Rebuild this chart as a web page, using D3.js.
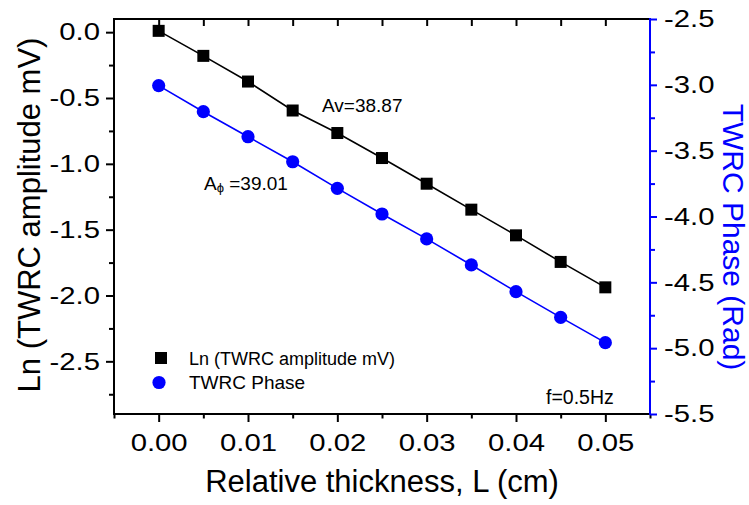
<!DOCTYPE html>
<html><head><meta charset="utf-8">
<script src="https://cdn.jsdelivr.net/npm/d3@7"></script>
<style>
body{margin:0;background:#fff;}
text{font-family:"Liberation Sans",Arial,sans-serif;}
</style></head>
<body><svg id="c" width="749" height="505"></svg>
<script>
const thickness = [0, 0.005, 0.01, 0.015, 0.02, 0.025, 0.03, 0.035, 0.04, 0.045, 0.05];
const lnAmplitude = [0.01, -0.18, -0.375, -0.595, -0.766, -0.956, -1.151, -1.348, -1.543, -1.745, -1.938];
const phase = [-3.006, -3.204, -3.394, -3.584, -3.786, -3.981, -4.17, -4.368, -4.571, -4.766, -4.958];
const xTicks = [0, 0.01, 0.02, 0.03, 0.04, 0.05];
const yLeftTicks = [0, -0.5, -1, -1.5, -2, -2.5];
const yRightTicks = [-2.5, -3, -3.5, -4, -4.5, -5, -5.5];
const seriesNames = ["Ln (TWRC amplitude mV)", "TWRC Phase"];
const annotations = ["Av=38.87", "39.01", "f=0.5Hz"];

const BLUE = "#0000ff";
const svg = d3.select("#c");
const X0 = 114, X1 = 650, Y0 = 19, Y1 = 414;
const x = d3.scaleLinear().domain([-0.005, 0.055]).range([X0, X1]);
const yL = d3.scaleLinear().domain([-2.9, 0.1]).range([Y1, Y0]);
const yR = d3.scaleLinear().domain([-5.5, -2.5]).range([Y1, Y0]);
const SX = 1.22; // horizontal stretch of tick labels

function stretchLabels(g) {
  g.selectAll(".tick text").each(function () {
    const t = d3.select(this);
    const xx = +t.attr("x") || 0;
    t.attr("transform", `translate(${xx},0) scale(${SX},1)`).attr("x", 0);
  });
}

// minor ticks
const xMinor = d3.range(-0.005, 0.0551, 0.005).map(v => +v.toFixed(4));
const yLMinor = d3.range(-2.75, 0.01, 0.25).map(v => +v.toFixed(2)).filter(v => !yLeftTicks.includes(v));
const yRMinor = d3.range(-5.25, -2.5, 0.5).map(v => +v.toFixed(2));

// bottom axis
const gb = svg.append("g").attr("transform", `translate(0,${Y1})`)
  .call(d3.axisBottom(x).tickValues(xTicks).tickFormat(d => d.toFixed(2)).tickSize(8).tickSizeOuter(0));
gb.call(g => g.selectAll(".tick text").attr("font-size", 24).attr("fill", "#000").attr("dy", "0.95em").attr("y", 14));
gb.selectAll(".tick line").attr("stroke-width", 2);
gb.select(".domain").remove();
stretchLabels(gb);
svg.append("g").attr("transform", `translate(0,${Y1})`)
  .call(d3.axisBottom(x).tickValues(xMinor.filter(v => !xTicks.some(t => Math.abs(t - v) < 1e-9))).tickFormat("").tickSize(4.5).tickSizeOuter(0))
  .call(g => { g.select(".domain").remove(); g.selectAll("line").attr("stroke-width", 2); });

// top axis (inward ticks)
svg.append("g").attr("transform", `translate(0,${Y0})`)
  .call(d3.axisBottom(x).tickValues(xMinor.filter(v => v > -0.005 && v < 0.055)).tickFormat("").tickSize(7).tickSizeOuter(0))
  .call(g => { g.select(".domain").remove(); g.selectAll("line").attr("stroke-width", 2); });

// left axis
const gl = svg.append("g").attr("transform", `translate(${X0},0)`)
  .call(d3.axisLeft(yL).tickValues(yLeftTicks).tickFormat(d => d.toFixed(1)).tickSize(8).tickSizeOuter(0));
gl.selectAll(".tick text").attr("font-size", 24).attr("fill", "#000").attr("x", -14);
gl.selectAll(".tick line").attr("stroke-width", 2);
gl.select(".domain").remove();
stretchLabels(gl);
svg.append("g").attr("transform", `translate(${X0},0)`)
  .call(d3.axisLeft(yL).tickValues(yLMinor).tickFormat("").tickSize(5).tickSizeOuter(0))
  .call(g => { g.select(".domain").remove(); g.selectAll("line").attr("stroke-width", 2); });

// right axis
const gr = svg.append("g").attr("transform", `translate(${X1},0)`)
  .call(d3.axisRight(yR).tickValues(yRightTicks).tickFormat(d => d.toFixed(1)).tickSize(7).tickSizeOuter(0));
gr.selectAll(".tick text").attr("font-size", 24).attr("fill", "#000").attr("x", 14);
gr.selectAll(".tick line").attr("stroke", BLUE).attr("stroke-width", 2);
gr.select(".domain").remove();
stretchLabels(gr);
svg.append("g").attr("transform", `translate(${X1},0)`)
  .call(d3.axisRight(yR).tickValues(yRMinor).tickFormat("").tickSize(5).tickSizeOuter(0))
  .call(g => { g.select(".domain").remove(); g.selectAll("line").attr("stroke", BLUE).attr("stroke-width", 2); });

// frame lines
svg.append("line").attr("x1", X0).attr("x2", X1).attr("y1", Y0).attr("y2", Y0).attr("stroke", "#000").attr("stroke-width", 2);
svg.append("line").attr("x1", X0 - 1).attr("x2", X1).attr("y1", Y1).attr("y2", Y1).attr("stroke", "#000").attr("stroke-width", 2);
svg.append("line").attr("x1", X0).attr("x2", X0).attr("y1", Y0 - 1).attr("y2", Y1 + 1).attr("stroke", "#000").attr("stroke-width", 2);
svg.append("line").attr("x1", X1).attr("x2", X1).attr("y1", Y0 - 1).attr("y2", Y1 + 1).attr("stroke", BLUE).attr("stroke-width", 2);

// data lines
const ampData = thickness.map((t, i) => [t, lnAmplitude[i]]);
const phData = thickness.map((t, i) => [t, phase[i]]);
svg.append("path").datum(ampData).attr("fill", "none").attr("stroke", "#000").attr("stroke-width", 1.6)
  .attr("d", d3.line().x(d => x(d[0])).y(d => yL(d[1])));
svg.append("path").datum(phData).attr("fill", "none").attr("stroke", BLUE).attr("stroke-width", 1.6)
  .attr("d", d3.line().x(d => x(d[0])).y(d => yR(d[1])));

svg.selectAll("rect.sq").data(ampData).join("rect").attr("class", "sq")
  .attr("x", d => x(d[0]) - 6).attr("y", d => yL(d[1]) - 6).attr("width", 12).attr("height", 12).attr("fill", "#000");
svg.selectAll("circle.ph").data(phData).join("circle").attr("class", "ph")
  .attr("cx", d => x(d[0])).attr("cy", d => yR(d[1])).attr("r", 6.6).attr("fill", BLUE);

// legend
svg.append("rect").attr("x", 161 - 6).attr("y", 358 - 6).attr("width", 12).attr("height", 12).attr("fill", "#000");
svg.append("circle").attr("cx", 159).attr("cy", 382.5).attr("r", 6.6).attr("fill", BLUE);
svg.append("text").attr("x", 189).attr("y", 365).attr("font-size", 18).text(seriesNames[0]);
svg.append("text").attr("x", 189).attr("y", 389).attr("font-size", 19).text(seriesNames[1]);

// annotations
svg.append("text").attr("x", 322).attr("y", 112).attr("font-size", 19).text(annotations[0]);
const aphi = svg.append("text").attr("x", 204).attr("y", 190).attr("font-size", 19);
aphi.append("tspan").text("A");
aphi.append("tspan").attr("font-size", 13).attr("dy", 1.5).text("\u03D5");
aphi.append("tspan").attr("font-size", 19).attr("dy", -1.5).text(" =" + annotations[1]);
svg.append("text").attr("x", 546).attr("y", 404).attr("font-size", 19.5).text(annotations[2]);

// axis titles
svg.append("text").attr("transform", `translate(${(X0 + X1) / 2},492)`).attr("text-anchor", "middle")
  .attr("font-size", 31).text("Relative thickness, L (cm)");
svg.append("text").attr("transform", `translate(40,215) rotate(-90)`).attr("text-anchor", "middle")
  .attr("font-size", 31).text("Ln (TWRC amplitude mV)");
svg.append("text").attr("transform", `translate(723,237) rotate(90)`).attr("text-anchor", "middle")
  .attr("font-size", 30).attr("fill", BLUE).text("TWRC Phase (Rad)");
</script></body></html>
